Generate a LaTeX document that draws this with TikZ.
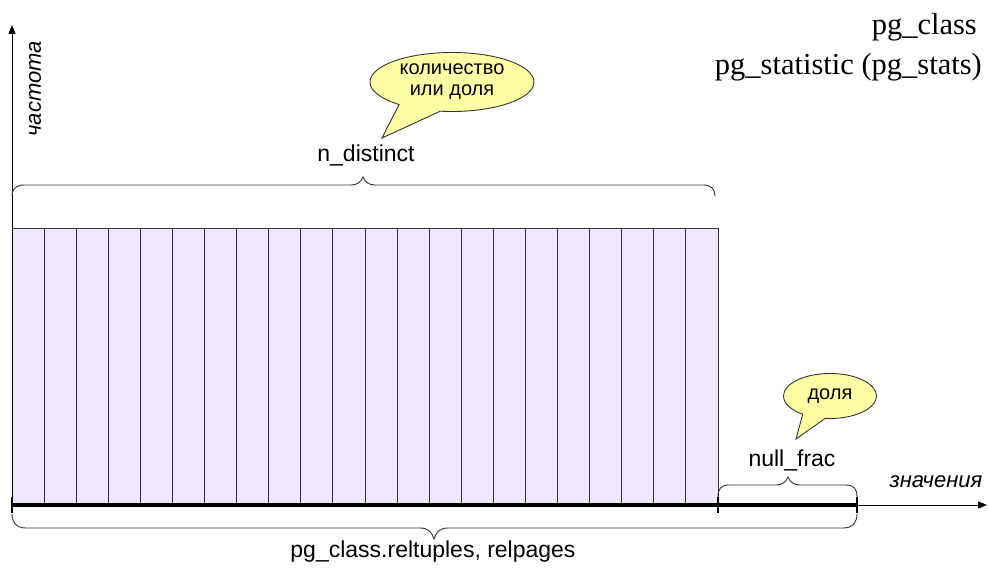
\documentclass[tikz,border=0pt]{standalone}
\usepackage{fontspec}
\setmainfont{Liberation Serif}
\setsansfont{Liberation Sans}
\usetikzlibrary{arrows.meta,shapes.callouts}
\definecolor{barfill}{RGB}{238,231,255}
\definecolor{calloutfill}{RGB}{255,255,166}
\definecolor{edge}{RGB}{51,51,51}
\begin{document}
\begin{tikzpicture}[x=1pt,y=-1pt,
  lbl/.style={font=\sffamily\fontsize{23}{26}\selectfont, inner sep=0pt},
  itlbl/.style={font=\sffamily\itshape\fontsize{22}{26}\selectfont, inner sep=0pt},
  serlbl/.style={font=\fontsize{30.5}{34}\selectfont, inner sep=0pt, anchor=base east},
  bar/.style={draw=edge, fill=barfill, line width=0.9pt},
  bracepath/.style={draw=edge, line width=0.9pt},
  axis/.style={draw=black, line width=0.9pt, -{Triangle[length=9pt,width=7pt]}},
  tick/.style={draw=black, line width=2pt},
  callout/.style={ellipse callout, draw=edge, fill=calloutfill, line width=0.9pt, align=center,
    font=\sffamily\fontsize{20}{21}\selectfont, inner sep=0pt},
  ]
\useasboundingbox (0,0) rectangle (989,572);

% bars
\foreach \i in {0,...,21}
  \draw[bar] ({12+\i*32.09},228) rectangle ({12+(\i+1)*32.09},505);

% axes
\coordinate (O) at (12,505);
\coordinate (ytip) at (12,25);
\coordinate (xtip) at (987,505);
\coordinate (nfstart) at (718,505);
\coordinate (xend) at (857,505);
\draw[axis] (O) -- (ytip);
\draw[axis] (O) -- (xtip);
\draw[line width=4pt] (O) -- (xend);
\draw[tick] (12,497) -- (12,513);
\draw[tick] (718,497) -- (718,513);
\draw[tick] (857,497) -- (857,513);

% braces
\draw[bracepath] (12,196) .. controls (12,189) and (16,185) .. (24,185) -- (351,185)
  .. controls (357,185) and (361,182) .. (363,177) .. controls (365,182) and (369,185) .. (375,185)
  -- (703,185) .. controls (711,185) and (715,189) .. (715,196);
\draw[bracepath] (718,497) .. controls (718,489) and (721,485) .. (729,485) -- (776,485)
  .. controls (782,485) and (786,482) .. (788,477) .. controls (790,482) and (794,485) .. (800,485)
  -- (846,485) .. controls (854,485) and (857,489) .. (857,497);
\draw[bracepath] (12,514) .. controls (12,522) and (16,528) .. (26,528) -- (420,528)
  .. controls (428,528) and (432,532) .. (434,539) .. controls (436,532) and (440,528) .. (448,528)
  -- (843,528) .. controls (853,528) and (857,522) .. (857,514);

% labels
\node[lbl, anchor=base] (nd) at (366,162) {n\_distinct};
\node[lbl, anchor=base] (nf) at (792,466) {null\_frac};
\node[lbl, anchor=base] (rel) at (433,557) {pg\_class.reltuples, relpages};
\node[itlbl, anchor=base] (zn) at (936,487) {значения};
\node[itlbl, rotate=90] (ch) at (35,89) {частота};
\node[serlbl] (pc) at (977,35) {pg\_class};
\node[serlbl] (ps) at (982,75) {pg\_statistic (pg\_stats)};

% callouts
\node[callout, callout pointer arc=32, minimum width=164pt, minimum height=59pt, callout absolute pointer={(382,138)}] (c1) at (452,82) {количество\\или доля};
\node[callout, callout pointer arc=30, minimum width=93pt, minimum height=45pt, callout absolute pointer={(796,439)}] (c2) at (830,396) {доля};
\end{tikzpicture}
\end{document}
